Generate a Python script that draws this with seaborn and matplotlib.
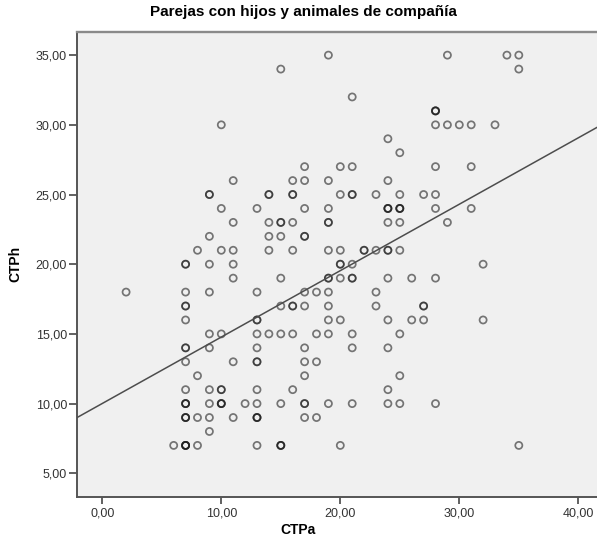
import numpy as np
import pandas as pd
import matplotlib
matplotlib.use("Agg")
import matplotlib.pyplot as plt
import seaborn as sns

# ---------------- data ----------------
title = "Parejas con hijos y animales de compañía"
x_label = "CTPa"
y_label = "CTPh"
x_ticks = [0, 10, 20, 30, 40]
x_ticklabels = ["0,00", "10,00", "20,00", "30,00", "40,00"]
y_ticks = [5, 10, 15, 20, 25, 30, 35]
y_ticklabels = ["5,00", "10,00", "15,00", "20,00", "25,00", "30,00", "35,00"]

# unique (CTPa, CTPh) positions, row by row, and number of cases sharing them
ctpa = [19, 29, 34, 35,
        15, 35,
        21,
        28,
        10, 28, 29, 30, 31, 33,
        24,
        25,
        17, 20, 21, 28, 31,
        11, 16, 17, 19, 24,
        9, 14, 16, 20, 21, 23, 25, 27, 28,
        10, 13, 17, 19, 24, 25, 28, 31,
        11, 14, 15, 16, 19, 24, 25, 29,
        9, 14, 15, 17,
        8, 10, 11, 14, 16, 19, 20, 22, 23, 24, 25,
        7, 9, 11, 20, 21, 32,
        11, 15, 19, 20, 21, 24, 26, 28,
        2, 7, 9, 13, 17, 18, 19, 23,
        7, 15, 16, 17, 19, 23, 27,
        7, 13, 19, 20, 24, 26, 27, 32,
        9, 10, 13, 14, 15, 16, 18, 19, 21, 25,
        7, 9, 13, 17, 21, 24,
        7, 11, 13, 17, 18,
        8, 17, 25,
        7, 9, 10, 13, 16, 24,
        7, 9, 10, 12, 13, 15, 17, 19, 21, 24, 25, 28,
        7, 8, 9, 11, 13, 17, 18,
        9,
        6, 7, 8, 13, 15, 20, 35]
ctph = [35, 35, 35, 35,
        34, 34,
        32,
        31,
        30, 30, 30, 30, 30, 30,
        29,
        28,
        27, 27, 27, 27, 27,
        26, 26, 26, 26, 26,
        25, 25, 25, 25, 25, 25, 25, 25, 25,
        24, 24, 24, 24, 24, 24, 24, 24,
        23, 23, 23, 23, 23, 23, 23, 23,
        22, 22, 22, 22,
        21, 21, 21, 21, 21, 21, 21, 21, 21, 21, 21,
        20, 20, 20, 20, 20, 20,
        19, 19, 19, 19, 19, 19, 19, 19,
        18, 18, 18, 18, 18, 18, 18, 18,
        17, 17, 17, 17, 17, 17, 17,
        16, 16, 16, 16, 16, 16, 16, 16,
        15, 15, 15, 15, 15, 15, 15, 15, 15, 15,
        14, 14, 14, 14, 14, 14,
        13, 13, 13, 13, 13,
        12, 12, 12,
        11, 11, 11, 11, 11, 11,
        10, 10, 10, 10, 10, 10, 10, 10, 10, 10, 10, 10,
        9, 9, 9, 9, 9, 9, 9,
        8,
        7, 7, 7, 7, 7, 7, 7]
cases = [1, 1, 1, 1,
         1, 1,
         1,
         3,
         1, 1, 1, 1, 1, 1,
         1,
         1,
         1, 1, 1, 1, 1,
         1, 1, 1, 1, 1,
         2, 2, 2, 1, 2, 1, 1, 1, 1,
         1, 1, 1, 1, 3, 3, 1, 1,
         1, 1, 2, 1, 2, 1, 1, 1,
         1, 1, 1, 2,
         1, 1, 1, 1, 1, 1, 1, 2, 1, 2, 1,
         2, 1, 1, 2, 1, 1,
         1, 1, 2, 1, 2, 1, 1, 1,
         1, 1, 1, 1, 1, 1, 1, 1,
         2, 1, 2, 1, 1, 1, 2,
         1, 2, 1, 1, 1, 1, 1, 1,
         1, 1, 1, 1, 1, 1, 1, 1, 1, 1,
         2, 1, 1, 1, 1, 1,
         1, 1, 2, 1, 1,
         1, 1, 1,
         1, 1, 2, 1, 1, 1,
         3, 1, 3, 1, 1, 1, 2, 1, 1, 1, 1, 1,
         3, 1, 1, 1, 3, 1, 1,
         1,
         1, 4, 1, 1, 3, 1, 1]

df = pd.DataFrame({
    "CTPa": np.repeat(ctpa, cases).astype(float),
    "CTPh": np.repeat(ctph, cases).astype(float),
})

# ---------------- figure ----------------
plt.rcParams["font.family"] = ["Liberation Sans", "DejaVu Sans"]

W, H = 597, 545
fig = plt.figure(figsize=(W / 100, H / 100), dpi=100)
fig.patch.set_facecolor("white")
left_px, right_px, top_px, bottom_px = 76.7, 597.0, 32.0, 496.7
ax = fig.add_axes([left_px / W, 1 - bottom_px / H,
                   (right_px - left_px) / W, (bottom_px - top_px) / H])
ax.set_facecolor("#f0f0f0")

ax.set_xlim(-2.15, 41.57)
ax.set_ylim(3.32, 36.66)

sns.scatterplot(data=df, x="CTPa", y="CTPh", ax=ax, marker="o", s=26,
                color="#1a1a1a", facecolors="none", edgecolor="#1a1a1a",
                linewidth=1.25, alpha=0.58, zorder=3)
sns.regplot(data=df, x="CTPa", y="CTPh", ax=ax, scatter=False, ci=None,
            truncate=False, line_kws=dict(color="#4d4d4d", lw=1.1, zorder=4))

ax.set_xlim(-2.15, 41.57)
ax.set_ylim(3.32, 36.66)

ax.set_xticks(x_ticks)
ax.set_xticklabels(x_ticklabels)
ax.set_yticks(y_ticks)
ax.set_yticklabels(y_ticklabels)

ax.spines["right"].set_visible(False)
ax.spines["top"].set_color("#8a8a8a")
ax.spines["top"].set_linewidth(1.7)
for s in ("left", "bottom"):
    ax.spines[s].set_color("#555555")
    ax.spines[s].set_linewidth(1.4)

ax.tick_params(axis="x", direction="out", length=5, width=1.3, color="#555555",
               pad=3, labelsize=9, labelcolor="#333333")
ax.tick_params(axis="y", direction="out", length=5.5, width=1.3, color="#555555",
               pad=1.5, labelsize=9, labelcolor="#333333")

ax.set_xlabel(x_label, fontsize=10, fontweight="bold", color="black")
ax.set_ylabel(y_label, fontsize=10, fontweight="bold", color="black")
ax.xaxis.set_label_coords((298 - left_px) / (right_px - left_px),
                          -(530 - bottom_px) / (bottom_px - top_px))
ax.xaxis.label.set_va("center")
ax.yaxis.set_label_coords((15 - left_px) / (right_px - left_px), 0.5)
ax.yaxis.label.set_va("center")

fig.text(303 / W, 1 - 12 / H, title, ha="center", va="center",
         fontsize=11, fontweight="bold", color="black")

fig.savefig("out.png", dpi=100)
